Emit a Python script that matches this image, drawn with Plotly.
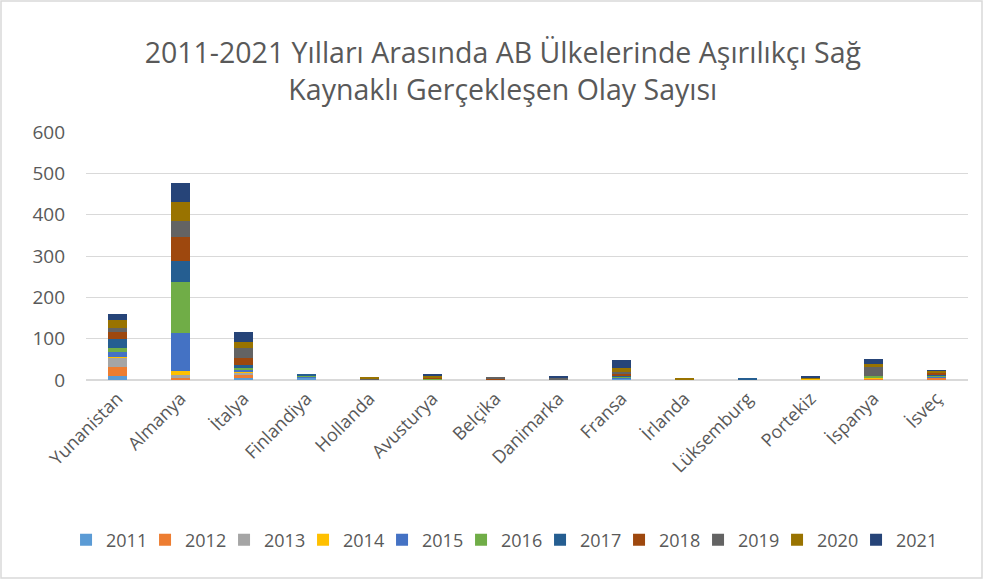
import plotly.graph_objects as go

countries = ["Yunanistan", "Almanya", "İtalya", "Finlandiya", "Hollanda", "Avusturya",
             "Belçika", "Danimarka", "Fransa", "İrlanda", "Lüksemburg", "Portekiz",
             "İspanya", "İsveç"]
years = ["2011", "2012", "2013", "2014", "2015", "2016", "2017", "2018", "2019", "2020", "2021"]

v2011 = [10, 2, 6, 5, 0, 0, 1, 0, 3, 0, 0, 0, 0, 2]
v2012 = [21, 3, 5, 0, 0, 0, 0, 0, 0, 0, 0, 1, 2, 4]
v2013 = [23, 8, 6, 0, 0, 0, 0, 0, 0, 0, 0, 0, 0, 0]
v2014 = [2, 8, 4, 0, 0, 0, 0, 0, 0, 0, 0, 2, 5, 0]
v2015 = [12, 93, 3, 4, 0, 0, 0, 0, 3, 0, 1, 0, 0, 3]
v2016 = [10, 124, 5, 3, 2, 3, 0, 0, 1, 0, 0, 0, 3, 3]
v2017 = [21, 50, 7, 1, 0, 0, 0, 1, 5, 0, 2, 0, 0, 2]
v2018 = [17, 59, 17, 0, 0, 2, 3, 0, 4, 0, 0, 0, 0, 3]
v2019 = [11, 37, 24, 0, 1, 2, 2, 3, 4, 2, 0, 0, 21, 2]
v2020 = [19, 46, 14, 0, 3, 4, 0, 0, 10, 3, 0, 2, 8, 3]
v2021 = [13, 47, 24, 0, 0, 4, 0, 6, 18, 0, 0, 3, 12, 2]

series = [v2011, v2012, v2013, v2014, v2015, v2016, v2017, v2018, v2019, v2020, v2021]
colors = ["#5B9BD5", "#ED7D31", "#A5A5A5", "#FFC000", "#4472C4", "#70AD47",
          "#255E91", "#9E480E", "#636363", "#997300", "#264478"]

fig = go.Figure()
for name, vals, col in zip(years, series, colors):
    fig.add_trace(go.Bar(name=name, x=countries, y=vals, marker_color=col,
                         marker_line_width=0))

txt = "#595959"
grid = "#D9D9D9"
font_family = "Open Sans, Noto Sans, sans-serif"

fig.update_layout(
    barmode="stack",
    bargap=0.7,
    width=984, height=580,
    margin=dict(l=86, r=16, t=132, b=200),
    paper_bgcolor="white", plot_bgcolor="white",
    font=dict(family=font_family, color=txt, size=18),
    title=dict(text="2011-2021 Yılları Arasında AB Ülkelerinde Aşırılıkçı Sağ<br>Kaynaklı Gerçekleşen Olay Sayısı",
               x=0.511, xanchor="center", y=1 - 63 / 580, yanchor="middle",
               font=dict(size=28.5, color=txt, family=font_family)),
    xaxis=dict(tickangle=-45, showgrid=False, showline=True, linecolor=grid,
               linewidth=1, ticks="", tickfont=dict(size=18, color=txt)),
    yaxis=dict(range=[0, 600], dtick=100, showgrid=True, gridcolor=grid,
               gridwidth=1, zeroline=True, zerolinecolor=grid, showline=False,
               ticks="", tickfont=dict(size=19, color=txt), ticklabelstandoff=20),
    legend=dict(orientation="h", x=0.47, xanchor="center", y=-0.645, yanchor="middle",
                font=dict(size=18, color=txt), traceorder="normal",
                entrywidth=34, entrywidthmode="pixels"),
    showlegend=True,
    shapes=[dict(type="rect", xref="paper", yref="paper",
                 x0=(1 - 86) / 882, x1=(982 - 86) / 882,
                 y0=(380 - 578) / 248, y1=(380 - 1) / 248,
                 line=dict(color=grid, width=1.5), fillcolor="rgba(0,0,0,0)", layer="below")],
)

fig.write_html("out.html")
